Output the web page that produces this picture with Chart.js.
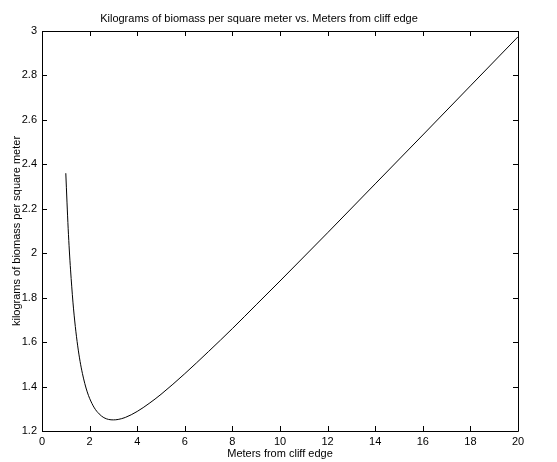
<!DOCTYPE html>
<html>
<head>
<meta charset="utf-8">
<script src="https://cdn.jsdelivr.net/npm/chart.js@4.4.0/dist/chart.umd.min.js"></script>
<style>
  html, body { margin: 0; padding: 0; background: #fff; }
  #chart { display: block; }
</style>
</head>
<body>
<canvas id="chart" width="557" height="462"></canvas>
<script>
// Values
var meters = [1, 1.05, 1.1, 1.15, 1.2, 1.3, 1.4, 1.5, 1.6, 1.7, 1.8, 1.9, 2, 2.2, 2.4, 2.6, 2.8, 3, 3.2, 3.5, 4, 4.5, 5, 6, 7, 8, 9, 10, 12, 14, 16, 18, 20];
var biomass = [2.36, 2.23, 2.11, 2.01, 1.925, 1.78, 1.67, 1.583, 1.513, 1.458, 1.413, 1.376, 1.347, 1.304, 1.277, 1.26, 1.252, 1.25, 1.252, 1.261, 1.288, 1.324, 1.365, 1.458, 1.558, 1.661, 1.768, 1.875, 2.092, 2.312, 2.532, 2.753, 2.974];
var xTicks = [0, 2, 4, 6, 8, 10, 12, 14, 16, 18, 20];
var yTicks = [1.2, 1.4, 1.6, 1.8, 2, 2.2, 2.4, 2.6, 2.8, 3];

var FONT = 'Liberation Sans, Arial, Helvetica, sans-serif';
var SIZE = 11;

var points = meters.map(function(m, i) {
  return { x: m, y: biomass[i] };
});

// box around the axes and inward tick marks on all four sides
var innerTicks = {
  id: 'innerTicks',
  afterDraw: function(chart) {
    var ctx = chart.ctx;
    var a = chart.chartArea;
    var x = chart.scales.x, y = chart.scales.y;
    var len = 5;
    ctx.save();
    ctx.strokeStyle = '#000';
    ctx.lineWidth = 1;
    ctx.beginPath();
    ctx.rect(Math.round(a.left) + 0.5, Math.round(a.top) + 0.5,
             Math.round(a.right - a.left), Math.round(a.bottom - a.top));
    x.ticks.forEach(function(t) {
      var px = Math.round(x.getPixelForValue(t.value)) + 0.5;
      ctx.moveTo(px, a.bottom); ctx.lineTo(px, a.bottom - len);
      ctx.moveTo(px, a.top); ctx.lineTo(px, a.top + len);
    });
    y.ticks.forEach(function(t) {
      var py = Math.round(y.getPixelForValue(t.value)) + 0.5;
      ctx.moveTo(a.left, py); ctx.lineTo(a.left + len, py);
      ctx.moveTo(a.right, py); ctx.lineTo(a.right - len, py);
    });
    ctx.stroke();
    ctx.restore();
  }
};

new Chart(document.getElementById('chart'), {
  type: 'scatter',
  data: {
    datasets: [{
      data: points,
      showLine: true,
      borderColor: '#000',
      borderWidth: 1,
      pointRadius: 0,
      cubicInterpolationMode: 'monotone'
    }]
  },
  plugins: [innerTicks],
  options: {
    responsive: false,
    animation: false,
    layout: { padding: { left: 0, top: 0, right: 39, bottom: 0 } },
    plugins: {
      legend: { display: false },
      tooltip: { enabled: false },
      title: {
        display: true,
        text: 'Kilograms of biomass per square meter vs. Meters from cliff edge',
        color: '#000',
        font: { family: FONT, size: SIZE, weight: 'normal' },
        padding: { top: 12, bottom: 5.8 }
      }
    },
    scales: {
      x: {
        type: 'linear',
        min: 0,
        max: 20,
        afterBuildTicks: function(s) { s.ticks = xTicks.map(function(v) { return { value: v }; }); },
        afterFit: function(s) { s.height = 31; },
        grid: { display: false, drawTicks: false },
        border: { display: false },
        ticks: { color: '#000', padding: 4, font: { family: FONT, size: SIZE } },
        title: {
          display: true,
          text: 'Meters from cliff edge',
          color: '#000',
          font: { family: FONT, size: SIZE },
          padding: { top: 0, bottom: 1.4 }
        }
      },
      y: {
        type: 'linear',
        min: 1.2,
        max: 3,
        afterBuildTicks: function(s) { s.ticks = yTicks.map(function(v) { return { value: v }; }); },
        afterFit: function(s) { s.width = 42; },
        grid: { display: false, drawTicks: false },
        border: { display: false },
        ticks: {
          color: '#000',
          padding: 5,
          font: { family: FONT, size: SIZE },
          callback: function(v) { return String(Math.round(v * 10) / 10); }
        },
        title: {
          display: true,
          text: 'kilograms of biomass per square meter',
          color: '#000',
          font: { family: FONT, size: SIZE },
          padding: { top: 10, bottom: 0 }
        }
      }
    }
  }
});
</script>
</body>
</html>
